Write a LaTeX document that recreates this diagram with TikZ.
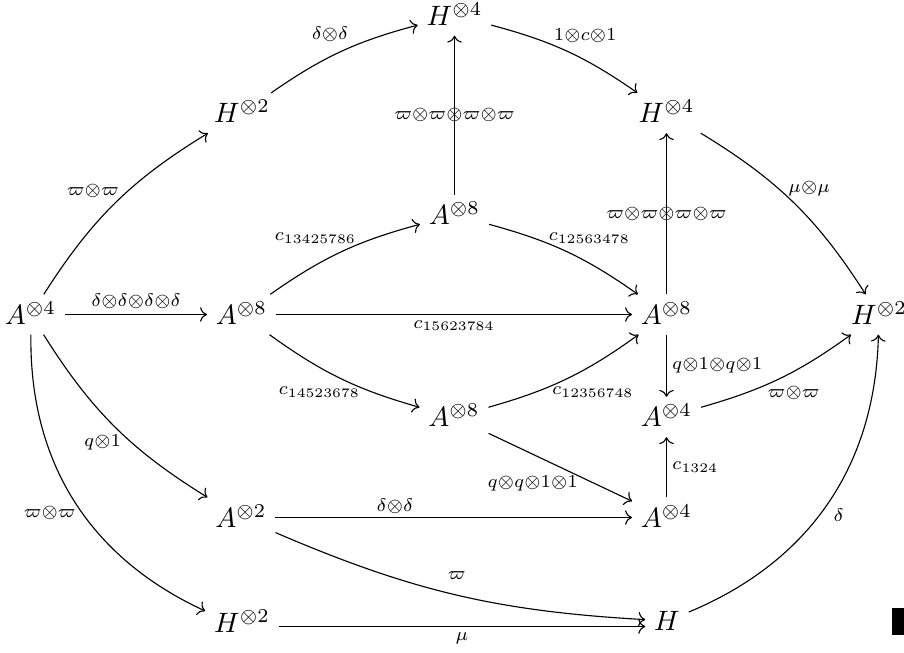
\documentclass[tikz,border=0pt]{standalone}
\usetikzlibrary{cd}
\begin{document}
\begin{tikzpicture}[x=0.357143pt,y=0.357143pt,
  obj/.style={inner sep=3pt, text height=7.5pt, text depth=0.5pt},
  objlow/.style={inner sep=3pt, text height=7.5pt, text depth=3.2pt},
  arr/.style={-{cm to}, line width=0.4pt},
  lab/.style={auto, inner sep=2pt, scale=0.93, transform shape},
  midlab/.style={inner sep=0pt, anchor=center, scale=0.93, transform shape}
]
\path[use as bounding box] (0,0) rectangle (904,652);
% nodes
\node[obj] (a4)   at (30.5,337.5) {$A^{\otimes 4}$};
\node[obj] (a8L)  at (241.5,337.5) {$A^{\otimes 8}$};
\node[obj] (a8T)  at (454.5,437) {$A^{\otimes 8}$};
\node[obj] (a8B)  at (454,235) {$A^{\otimes 8}$};
\node[obj] (a8R)  at (666.5,337.5) {$A^{\otimes 8}$};
\node[obj] (h2R)  at (879,337.5) {$H^{\otimes 2}$};
\node[obj] (h4T)  at (454.5,636.5) {$H^{\otimes 4}$};
\node[obj] (h2UL) at (242,539) {$H^{\otimes 2}$};
\node[obj] (h4UR) at (666.5,539) {$H^{\otimes 4}$};
\node[obj] (a4M)  at (666.5,235) {$A^{\otimes 4}$};
\node[obj] (a4L)  at (666.5,134.5) {$A^{\otimes 4}$};
\node[obj] (a2)   at (241,134.5) {$A^{\otimes 2}$};
\node[objlow] (h2B) at (242,25.5) {$H^{\otimes 2}$};
\node[obj] (hB)   at (667,31) {$H$};
% arrows
\draw[arr] (a4) to[bend left=13] node[lab,xshift=3.6pt,yshift=-0.1pt]{$\scriptstyle\varpi\otimes\varpi$} (h2UL);
\draw[arr] (h2UL) to[bend left=10] node[lab,xshift=5pt,yshift=1.6pt]{$\scriptstyle\delta\otimes\delta$} (h4T);
\draw[arr] (h4T) to[bend left=10] node[lab,xshift=-7.5pt,yshift=1.3pt]{$\scriptstyle 1\otimes c\otimes 1$} (h4UR);
\draw[arr] (h4UR) to[bend left=13] node[lab,xshift=-4.3pt,yshift=0.25pt]{$\scriptstyle\mu\otimes\mu$} (h2R);
\draw[arr] (a4) -- node[lab]{$\scriptstyle\delta\otimes\delta\otimes\delta\otimes\delta$} (a8L);
\draw[arr] (a8L) to[bend left=10] node[lab,xshift=7.8pt,yshift=1pt]{$\scriptstyle c_{13425786}$} (a8T);
\draw[arr] (a8T) to[bend left=10] node[lab,xshift=-9.3pt,yshift=1pt]{$\scriptstyle c_{12563478}$} (a8R);
\draw[arr] (a8L) -- node[lab,swap]{$\scriptstyle c_{15623784}$} (a8R);
\draw[arr] (a8L) to[bend right=10] node[lab,swap,xshift=9.6pt,yshift=-0.95pt]{$\scriptstyle c_{14523678}$} (a8B);
\draw[arr] (a8B) to[bend right=10] node[lab,swap,xshift=-8pt,yshift=-1pt]{$\scriptstyle c_{12356748}$} (a8R);
\draw[arr] (a8T) -- node[midlab]{$\scriptstyle\varpi\otimes\varpi\otimes\varpi\otimes\varpi$} (h4T);
\draw[arr] (a8R) -- node[midlab]{$\scriptstyle\varpi\otimes\varpi\otimes\varpi\otimes\varpi$} (h4UR);
\draw[arr] (a8R) -- node[lab]{$\scriptstyle q\otimes 1\otimes q\otimes 1$} (a4M);
\draw[arr] (a4M) to[bend right=10] node[lab,swap,xshift=-6.8pt,yshift=-0.6pt]{$\scriptstyle\varpi\otimes\varpi$} (h2R);
\draw[arr] (a4L) -- node[lab,swap]{$\scriptstyle c_{1324}$} (a4M);
\draw[arr] (a8B) -- node[lab,swap,xshift=8.9pt,yshift=-1.1pt]{$\scriptstyle q\otimes q\otimes 1\otimes 1$} (a4L);
\draw[arr] (a4) to[bend right=13] node[lab,swap,xshift=4.6pt,yshift=-1pt]{$\scriptstyle q\otimes 1$} (a2);
\draw[arr] (a4) to[bend right=33] node[lab,swap,xshift=2.9pt]{$\scriptstyle\varpi\otimes\varpi$} (h2B);
\draw[arr] (a2) -- node[lab,pos=0.335,yshift=-0.7pt]{$\scriptstyle\delta\otimes\delta$} (a4L);
\draw[arr] (a2) to[bend right=10] node[lab,xshift=-5.3pt,yshift=3.9pt]{$\scriptstyle\varpi$} (hB);
\draw[arr] (h2B) -- node[lab,swap]{$\scriptstyle\mu$} (h2B -| hB.west);
\draw[arr] (hB) to[bend right=33] node[lab,swap]{$\scriptstyle\delta$} (h2R);
% black mark
\fill (892,17) rectangle (904,44);
\end{tikzpicture}
\end{document}
